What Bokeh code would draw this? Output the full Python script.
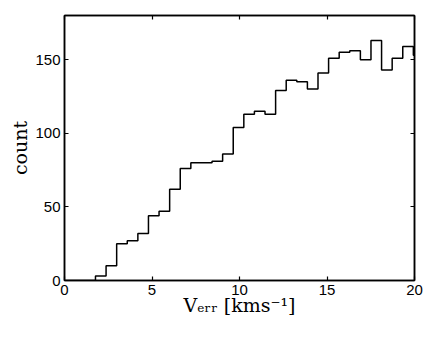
import math
from bokeh.plotting import figure
from bokeh.models import Range1d, LinearAxis, FixedTicker, CustomJSTickFormatter
from bokeh.embed import file_html
from bokeh.resources import INLINE

# ---- data ----
counts = [3, 10, 25, 27, 32, 44, 47, 62, 76, 80, 80, 81, 86, 104, 113,
          115, 113, 129, 136, 135, 130, 141, 151, 155, 156, 150, 163, 143, 151, 159]
overflow_count = 153          # next bin, lies beyond the x limit
bin_start = 1.77
bin_width = 0.6055
x_ticks = [0, 5, 10, 15, 20]
y_ticks = [0, 50, 100, 150]
x_lim = (0, 20)
y_lim = (0, 180)
x_title = "V\u2091\u1d63\u1d63 [kms\u207b\u00b9]"
y_title = "count"

edges = [bin_start + bin_width * k for k in range(len(counts) + 2)]
xs = [x_lim[0] - 1.0] + edges
ys = [0] + counts + [overflow_count, overflow_count]

W, H = 428, 329
p = figure(width=W, height=H, x_range=Range1d(*x_lim), y_range=Range1d(*y_lim),
           output_backend="svg", toolbar_location=None,
           min_border_left=64, min_border_right=14, min_border_top=15, min_border_bottom=49)
p.background_fill_color = "white"
p.border_fill_color = "white"
p.outline_line_color = "black"
p.outline_line_width = 1.5
p.xgrid.visible = False
p.ygrid.visible = False

p.step(xs, ys, mode="after", line_color="black", line_width=1.5)

def style(ax, ticks, labels=True):
    ax.ticker = FixedTicker(ticks=ticks)
    ax.major_tick_in = 4
    ax.major_tick_out = 0
    ax.minor_tick_line_color = None
    ax.axis_line_color = "black"
    ax.axis_line_width = 1.5
    ax.major_tick_line_color = "black"
    ax.major_tick_line_width = 1.2
    ax.major_label_text_font = "Liberation Sans"
    ax.major_label_text_font_size = "15px"
    ax.major_label_text_color = "black"
    ax.major_label_standoff = 4
    if not labels:
        ax.formatter = CustomJSTickFormatter(code="return ''")
        ax.major_label_standoff = 0
        ax.major_label_text_font_size = "1px"
        ax.major_label_text_color = None

def title_style(ax, text, standoff):
    ax.axis_label = text
    ax.axis_label_text_font = "DejaVu Serif"
    ax.axis_label_text_font_size = "19px"
    ax.axis_label_text_font_style = "normal"
    ax.axis_label_text_color = "black"
    ax.axis_label_standoff = standoff

style(p.xaxis[0], x_ticks)
style(p.yaxis[0], y_ticks)
title_style(p.yaxis[0], y_title, 1)
title_style(p.xaxis[0], x_title, -4)

top = LinearAxis()
right = LinearAxis()
style(top, x_ticks, labels=False)
style(right, y_ticks, labels=False)
p.add_layout(top, "above")
p.add_layout(right, "right")

open("out.html", "w").write(file_html(p, INLINE))
